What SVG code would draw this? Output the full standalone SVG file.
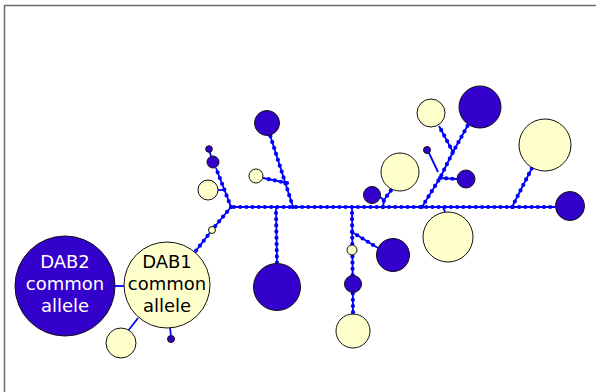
<svg xmlns="http://www.w3.org/2000/svg" width="596" height="392" viewBox="0 0 596 392">
<style>
.bg{fill:#fff}
.frame{fill:none;stroke:#6a6a6a;stroke-width:1.5}
.ln{fill:none;stroke:#0000ff;stroke-width:1.8}
.dt{fill:none;stroke:#0000ff;stroke-width:4.2;stroke-linecap:round;stroke-dasharray:0 6.2}
.p{fill:#3300cc;stroke:#111;stroke-width:1}
.y{fill:#ffffcc;stroke:#111;stroke-width:1}
.t{font-family:"DejaVu Sans",sans-serif;font-size:18px;text-anchor:middle}
</style>
<rect class="bg" x="0" y="0" width="596" height="392"/>
<path class="frame" d="M4.5,392 V5.5 H596"/>
<g id="connectors">
<g class="ln">
<path d="M231,207 H555"/>
<path d="M231,207 L216,168 M213,162 L209,150"/>
<path d="M223,190 L218,190"/>
<path d="M231,207 L212,230 L195,252"/>
<path d="M115,286 H124"/>
<path d="M138,318 L128,331"/>
<path d="M170,328 L171,336"/>
<path d="M293,207 L270,135"/>
<path d="M287,183 L263,178"/>
<path d="M276,207 L277,264"/>
<path d="M352,207 L353,314"/>
<path d="M352,232 L378,248"/>
<path d="M383,207 L384,200 L392,189 M384,200 L380,197"/>
<path d="M422,207 L440,178 L453,152 L468,125 M453,152 L439,126 M440,178 L457,179 M438,172 L429,153"/>
<path d="M443,207 L445,212"/>
<path d="M512,207 L532,168"/>
</g>
<g class="dt">
<path d="M234,207 H555"/>
<path d="M231,207 L216,168"/>
<path d="M231,207 L212,230 L195,252"/>
<path d="M293,207 L270,135"/>
<path d="M287,183 L263,178"/>
<path d="M276,213 L277,264"/>
<path d="M352,213 L353,314"/>
<path d="M352,232 L378,248"/>
<path d="M383,207 L384,200 L392,189"/>
<path d="M422,207 L440,178 L453,152 L468,125 M453,152 L439,126 M440,178 L457,179"/>
<path d="M512,207 L532,168"/>
</g>
</g>
<g id="dab2"><circle class="p" cx="65" cy="286" r="50"/>
<text class="t" fill="#fff"><tspan x="65" y="268">DAB2</tspan><tspan x="65" y="290">common</tspan><tspan x="65" y="312">allele</tspan></text></g>
<g id="dab1"><circle class="y" cx="167" cy="285" r="43"/>
<text class="t" fill="#000"><tspan x="167" y="268">DAB1</tspan><tspan x="167" y="290">common</tspan><tspan x="167" y="312">allele</tspan></text></g>
<g id="n1"><circle class="y" cx="121" cy="343" r="15"/></g>
<g id="n2"><circle class="p" cx="171" cy="339" r="3.5"/></g>
<g id="n3"><circle class="y" cx="212" cy="230" r="3.5"/></g>
<g id="n4"><circle class="y" cx="208" cy="190" r="10"/></g>
<g id="n5"><circle class="p" cx="213" cy="162" r="6"/></g>
<g id="n6"><circle class="p" cx="209" cy="149" r="3.3"/></g>
<g id="n7"><circle class="y" cx="256" cy="176" r="7"/></g>
<g id="n8"><circle class="p" cx="267" cy="123" r="12.5"/></g>
<g id="n9"><circle class="p" cx="277" cy="287" r="23.5"/></g>
<g id="n10"><circle class="y" cx="352" cy="250" r="5"/></g>
<g id="n11"><circle class="p" cx="353" cy="284" r="8.5"/></g>
<g id="n12"><circle class="y" cx="353" cy="331" r="17"/></g>
<g id="n13"><circle class="p" cx="393" cy="255" r="16.5"/></g>
<g id="n14"><circle class="p" cx="372" cy="195" r="8.5"/></g>
<g id="n15"><circle class="y" cx="400" cy="172" r="19"/></g>
<g id="n16"><circle class="p" cx="427" cy="150" r="3.5"/></g>
<g id="n17"><circle class="y" cx="431" cy="113" r="14"/></g>
<g id="n18"><circle class="p" cx="480" cy="107" r="21"/></g>
<g id="n19"><circle class="p" cx="466" cy="179" r="9"/></g>
<g id="n20"><circle class="y" cx="448" cy="237" r="25"/></g>
<g id="n21"><circle class="y" cx="545" cy="145" r="26"/></g>
<g id="n22"><circle class="p" cx="570" cy="206" r="14.5"/></g>
</svg>
